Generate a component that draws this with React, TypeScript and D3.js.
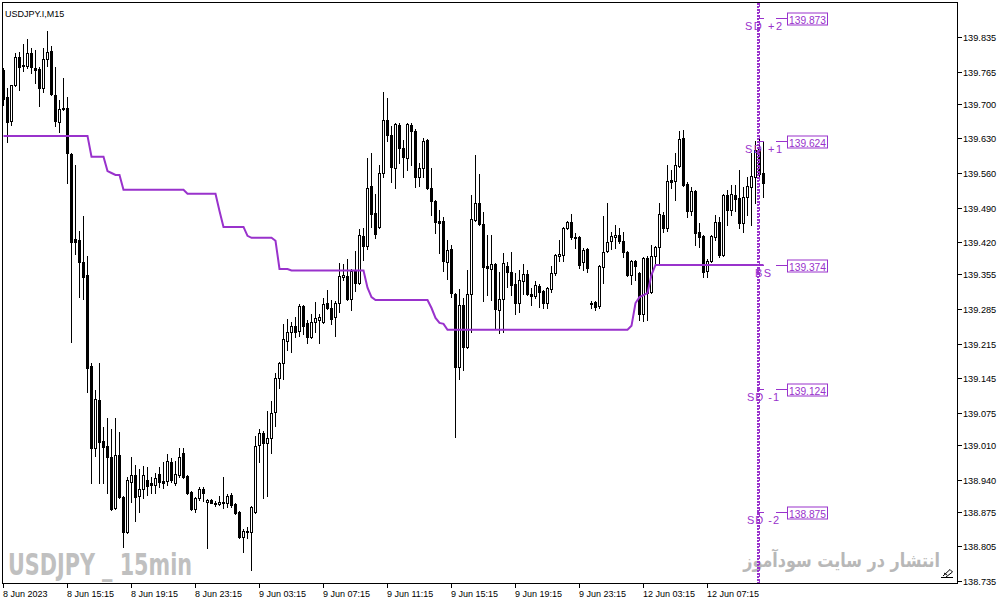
import React from "react";
import * as d3 from "d3";

const W = 1003;
const H = 605;

const OPEN = [
139.768,139.714,139.665,139.738,139.795,139.777,139.777,139.803,139.772,139.770,
139.732,139.791,139.807,139.718,139.663,139.690,139.692,139.599,139.427,139.425,
139.380,139.354,139.170,139.004,139.101,139.018,139.008,138.986,138.883,138.990,
138.905,138.834,138.935,138.949,138.907,138.921,138.939,138.933,138.929,138.951,
138.937,138.937,138.976,138.933,138.949,138.994,138.947,138.915,138.881,138.903,
138.921,138.895,138.899,138.893,138.891,138.895,138.893,138.909,138.891,138.875,
138.824,138.836,138.834,138.875,139.010,139.034,139.014,139.024,139.077,139.146,
139.176,139.220,139.239,139.251,139.241,139.291,139.257,139.229,139.259,139.263,
139.259,139.297,139.287,139.269,139.297,139.350,139.352,139.305,139.362,139.338,
139.433,139.413,139.534,139.479,139.451,139.560,139.667,139.637,139.570,139.657,
139.611,139.590,139.657,139.645,139.552,139.570,139.627,139.530,139.504,139.463,
139.463,139.380,139.407,139.315,139.168,139.293,139.208,139.315,139.465,139.500,
139.457,139.372,139.366,139.376,139.283,139.305,139.372,139.360,139.336,139.297,
139.342,139.356,139.315,139.311,139.332,139.322,139.297,139.326,139.358,139.392,
139.394,139.449,139.461,139.431,139.431,139.380,139.407,139.297,139.299,139.291,
139.370,139.402,139.423,139.431,139.435,139.423,139.400,139.354,139.382,139.358,
139.275,139.388,139.320,139.392,139.411,139.475,139.449,139.546,139.544,139.574,
139.631,139.538,139.483,139.524,139.441,139.433,139.362,139.382,139.431,139.461,
139.394,139.516,139.485,139.516,139.510,139.459,139.512,139.532,139.552,139.609,
139.560,
];

const HIGH = [
139.772,139.732,139.738,139.803,139.805,139.821,139.831,139.813,139.809,139.775,
139.813,139.847,139.817,139.775,139.708,139.752,139.714,139.601,139.576,139.443,
139.473,139.392,139.176,139.121,139.176,139.047,139.065,139.042,139.065,139.036,
138.907,138.945,138.986,138.970,138.962,138.968,138.966,138.945,138.953,138.966,
138.976,138.992,138.984,138.978,139.004,139.004,138.950,138.917,138.905,138.925,
138.925,138.901,138.901,138.897,138.907,138.945,138.911,138.913,138.893,138.877,
138.840,138.844,138.887,139.028,139.042,139.038,139.079,139.099,139.156,139.178,
139.255,139.265,139.259,139.269,139.295,139.293,139.263,139.275,139.299,139.275,
139.307,139.324,139.303,139.301,139.378,139.376,139.386,139.366,139.402,139.447,
139.449,139.590,139.601,139.518,139.576,139.724,139.712,139.655,139.661,139.661,
139.627,139.661,139.661,139.649,139.580,139.631,139.629,139.570,139.506,139.485,
139.471,139.425,139.415,139.317,139.326,139.307,139.364,139.516,139.597,139.558,
139.481,139.435,139.435,139.378,139.360,139.398,139.380,139.400,139.358,139.364,
139.376,139.364,139.328,139.342,139.336,139.324,139.330,139.372,139.396,139.425,
139.451,139.463,139.477,139.439,139.433,139.409,139.409,139.301,139.301,139.374,
139.473,139.500,139.441,139.455,139.449,139.441,139.402,139.384,139.384,139.360,
139.390,139.392,139.415,139.413,139.500,139.481,139.576,139.566,139.601,139.645,
139.647,139.542,139.532,139.526,139.459,139.435,139.386,139.435,139.475,139.471,
139.518,139.526,139.536,139.536,139.566,139.532,139.552,139.601,139.624,139.631,
139.622,
];

const LOW = [
139.698,139.623,139.657,139.736,139.728,139.766,139.772,139.762,139.742,139.696,
139.724,139.777,139.718,139.655,139.643,139.688,139.540,139.218,139.396,139.309,
139.305,139.117,138.933,138.988,138.933,138.933,138.913,138.879,138.881,138.903,
138.804,138.832,138.895,138.856,138.875,138.903,138.909,138.913,138.913,138.925,
138.923,138.929,138.935,138.929,138.945,138.943,138.911,138.879,138.875,138.899,
138.897,138.802,138.893,138.887,138.889,138.883,138.885,138.885,138.871,138.822,
138.794,138.822,138.757,138.873,138.976,138.903,138.907,138.994,139.049,139.125,
139.144,139.202,139.198,139.229,139.231,139.235,139.216,139.226,139.239,139.216,
139.257,139.285,139.255,139.231,139.279,139.344,139.303,139.283,139.322,139.336,
139.384,139.407,139.451,139.429,139.449,139.552,139.624,139.542,139.530,139.580,
139.552,139.566,139.576,139.532,139.534,139.552,139.528,139.475,139.439,139.398,
139.362,139.346,139.309,139.026,139.144,139.162,139.206,139.239,139.463,139.455,
139.301,139.313,139.303,139.247,139.237,139.239,139.330,139.313,139.275,139.279,
139.315,139.313,139.293,139.307,139.289,139.287,139.287,139.320,139.354,139.382,
139.382,139.447,139.427,139.409,139.368,139.364,139.360,139.287,139.283,139.287,
139.338,139.400,139.407,139.409,139.419,139.390,139.352,139.336,139.344,139.263,
139.261,139.263,139.318,139.374,139.378,139.441,139.443,139.530,139.506,139.572,
139.534,139.471,139.475,139.415,139.411,139.350,139.350,139.380,139.425,139.390,
139.392,139.455,139.475,139.483,139.449,139.441,139.475,139.455,139.500,139.546,
139.512,
];

const CLOSE = [
139.710,139.663,139.738,139.795,139.775,139.779,139.803,139.775,139.768,139.732,
139.791,139.805,139.720,139.665,139.690,139.692,139.601,139.421,139.421,139.380,
139.350,139.166,139.004,139.103,139.016,139.006,138.986,138.881,138.990,138.905,
138.834,138.939,138.949,138.905,138.921,138.949,138.927,138.929,138.943,138.935,
138.933,138.978,138.939,138.951,138.986,138.945,138.913,138.881,138.903,138.921,
138.913,138.899,138.893,138.891,138.895,138.893,138.907,138.889,138.873,138.824,
138.836,138.834,138.885,139.008,139.034,139.014,139.024,139.075,139.146,139.176,
139.224,139.239,139.251,139.239,139.291,139.251,139.229,139.259,139.267,139.269,
139.295,139.287,139.265,139.297,139.352,139.354,139.305,139.362,139.338,139.435,
139.413,139.530,139.477,139.437,139.560,139.667,139.637,139.572,139.659,139.611,
139.593,139.659,139.645,139.552,139.570,139.625,139.530,139.504,139.461,139.459,
139.382,139.404,139.317,139.168,139.293,139.208,139.315,139.467,139.500,139.457,
139.370,139.368,139.376,139.285,139.305,139.378,139.360,139.334,139.297,139.344,
139.356,139.315,139.311,139.334,139.320,139.297,139.328,139.358,139.394,139.396,
139.449,139.461,139.431,139.429,139.374,139.404,139.368,139.295,139.289,139.372,
139.400,139.421,139.433,139.435,139.423,139.400,139.354,139.382,139.372,139.275,
139.388,139.317,139.392,139.411,139.477,139.449,139.544,139.542,139.576,139.629,
139.536,139.483,139.524,139.439,139.431,139.360,139.382,139.433,139.461,139.394,
139.516,139.485,139.518,139.508,139.459,139.512,139.534,139.554,139.607,139.558,
139.540,
];

// Baseline (BS) indicator line, as runs of [value, number of bars]
const BS_RUNS: [number, number][] = [
  [139.635, 22], [139.593, 4], [139.564, 1], [139.560, 1], [139.556, 2],
  [139.526, 16], [139.518, 8], [139.483, 1], [139.451, 6], [139.433, 1],
  [139.429, 6], [139.423, 1], [139.366, 3], [139.363, 19], [139.328, 1],
  [139.309, 1], [139.303, 14], [139.287, 1], [139.267, 1], [139.257, 1],
  [139.255, 1], [139.243, 46], [139.251, 1], [139.297, 1], [139.309, 1],
  [139.313, 1], [139.317, 1], [139.354, 1], [139.374, 28],
];

const PRICE_TICKS = [
  "139.835","139.765","139.700","139.630","139.560","139.490","139.420","139.355",
  "139.285","139.215","139.145","139.075","139.010","138.940","138.875","138.805","138.735",
];

const TIME_LABELS = [
  "8 Jun 2023","8 Jun 15:15","8 Jun 19:15","8 Jun 23:15","9 Jun 03:15","9 Jun 07:15",
  "9 Jun 11:15","9 Jun 15:15","9 Jun 19:15","9 Jun 23:15","12 Jun 03:15","12 Jun 07:15",
];
const TIME_LABEL_BARS = [0,16,32,48,64,80,96,112,128,144,160,176];

const SD_NAMES = ["SD +2","SD +1","BS","SD -1","SD -2"];
const SD_VALUES = [139.873, 139.624, 139.374, 139.124, 138.875];

const PURPLE = "#9932CC";

export default function App() {
  const n = OPEN.length;
  const x = d3.scaleLinear().domain([0, 190]).range([3.5, 763.5]);
  const y = d3.scaleLinear().domain([138.735, 139.835]).range([581, 37]);

  const bs: number[] = [];
  BS_RUNS.forEach(([v, c]) => { for (let k = 0; k < c; k++) bs.push(v); });
  const bsLine = d3.line<number>().x((_, i) => x(i)).y((v) => y(v))(bs.slice(0, n)) || "";

  const candles = [];
  for (let i = 0; i < n; i++) {
    const col = x(i) - 0.5;
    const yh = Math.round(y(HIGH[i]));
    const yl = Math.round(y(LOW[i]));
    const yo = Math.round(y(OPEN[i]));
    const yc = Math.round(y(CLOSE[i]));
    const top = Math.min(yo, yc);
    const bot = Math.max(yo, yc);
    const bull = CLOSE[i] >= OPEN[i];
    candles.push(
      <g key={i}>
        <rect x={col} y={yh} width={1} height={yl - yh + 1} fill="#000" />
        <rect x={col - 1} y={top} width={3} height={bot - top + 1} fill="#000" />
        {bull && bot - top >= 2 ? (
          <rect x={col} y={top + 1} width={1} height={bot - top - 1} fill="#fff" />
        ) : null}
      </g>
    );
  }

  const sdLabelX = [745, 745, 755, 747, 747];
  const sdLabelLen = [37, 37, 16, 32, 32];

  const font = "'Liberation Sans', Arial, sans-serif";

  return (
    <svg width={W} height={H} style={{ position: "absolute", left: 0, top: 0, background: "#fff" }}
      fontFamily={font}>
      <rect x={0} y={0} width={W} height={H} fill="#fff" />
      {/* watermarks */}
      <text x={8} y={575} fontSize={30} fontWeight={900} fill="#c0c0c0"
        fontFamily="'DejaVu Sans Condensed', 'DejaVu Sans', sans-serif" fontStretch="condensed"
        textLength={184} lengthAdjust="spacingAndGlyphs">USDJPY _ 15min</text>
      <text x={0} y={0} transform="translate(940,567) scale(1,1.2)" fontSize={16} fontWeight="bold"
        fill="#b8b8b8" textAnchor="end"
        fontFamily="'DejaVu Sans', sans-serif">انتشار در سایت سودآموز</text>

      {/* candles */}
      {candles}

      {/* baseline indicator line */}
      <path d={bsLine} fill="none" stroke={PURPLE} strokeWidth={2} />

      {/* vertical dotted lines */}
      <line x1={758} x2={758} y1={3} y2={583} stroke={PURPLE} strokeWidth={2} strokeDasharray="2,1" />
      <line x1={759.5} x2={759.5} y1={3} y2={583} stroke={PURPLE} strokeWidth={1} strokeDasharray="4,2" />

      {/* SD levels */}
      {SD_VALUES.map((v, k) => {
        const ly = Math.round(y(v)) + 0.5;
        return (
          <g key={k}>
            <line x1={757} x2={764} y1={ly} y2={ly} stroke={PURPLE} strokeWidth={1} />
            <line x1={776} x2={787} y1={ly} y2={ly} stroke={PURPLE} strokeWidth={1} />
            <rect x={787.5} y={ly - 5.5} width={40} height={12} fill="#fff" stroke={PURPLE} strokeWidth={1} />
            <text x={789} y={ly + 5} fontSize={11} fill={PURPLE} textLength={37} lengthAdjust="spacingAndGlyphs">
              {v.toFixed(3)}
            </text>
            <text x={sdLabelX[k]} y={ly + 11} fontSize={11} fill={PURPLE} textLength={sdLabelLen[k]} lengthAdjust="spacing">
              {SD_NAMES[k]}
            </text>
          </g>
        );
      })}

      {/* frame */}
      <rect x={2.5} y={2.5} width={955} height={581} fill="none" stroke="#000" strokeWidth={1} />

      {/* right axis */}
      {PRICE_TICKS.map((t) => {
        const ty = Math.round(y(+t)) + 0.5;
        return (
          <g key={t}>
            <line x1={958} x2={962} y1={ty} y2={ty} stroke="#000" />
            <text x={963} y={ty + 3.5} fontSize={9.2} fill="#000">{t}</text>
          </g>
        );
      })}

      {/* bottom axis */}
      {TIME_LABEL_BARS.map((b, k) => {
        const tx = x(b);
        return (
          <g key={b}>
            <line x1={tx} x2={tx} y1={584} y2={588} stroke="#000" />
            <text x={tx - 0.5} y={597} fontSize={9} fill="#000">{TIME_LABELS[k]}</text>
          </g>
        );
      })}

      {/* title */}
      <text x={5} y={16.5} fontSize={9} fill="#000">USDJPY.I,M15</text>

      {/* small icon */}
      <g stroke="#000" strokeWidth={1} fill="none">
        <path d="M941 577.5 H953" />
        <path d="M943 576 L950 569.5 L952.5 572 L946 577" />
        <path d="M944 573 L947 575" />
      </g>
    </svg>
  );
}
